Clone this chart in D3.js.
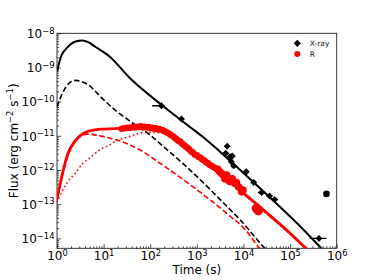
<!DOCTYPE html>
<html>
<head>
<meta charset="utf-8">
<script src="https://cdn.jsdelivr.net/npm/d3@7"></script>
<style>
  html, body { margin: 0; padding: 0; background: #fff; }
  svg { display: block; font-family: 'DejaVu Sans', sans-serif; }
  text { white-space: pre; }
</style>
</head>
<body>
<div id="chart"></div>
<script>
// X-ray observations: time (s), flux (erg cm^-2 s^-1)
const xrayT   = [174, 468, 4470, 4170, 5130, 5750, 5500, 6170, 11500, 16600, 24500, 36300, 46800, 417000];
const xrayF   = [7.6e-11, 3.1e-11, 5.0e-12, 3.1e-12, 2.45e-12, 2.57e-12, 1.74e-12, 1.32e-12, 8.9e-13, 4.3e-13, 2.2e-13, 1.74e-13, 1.38e-13, 1.0e-14];
const xrayTLo = [110, null, null, null, null, null, null, null, null, null, 20400, null, null, 263000];
const xrayTHi = [200, null, null, null, null, null, null, null, null, null, 28800, null, null, 603000];
const xrayFLo = [null, null, null, null, null, null, null, null, null, null, null, null, null, 8.3e-15];
const xrayFHi = [null, null, null, null, null, null, null, null, null, null, null, null, null, 1.2e-14];

// single late point drawn as a black dot
const lateT = [603000];
const lateF = [2.0e-13];

// R band observations
const rT = [24.5, 28.2, 31.6, 35.5, 39.8, 43.7, 47.9, 52.5, 57.5, 63.1, 69.2, 75.9, 83.2, 91.2, 100, 110, 120, 132, 145, 158,
            174, 191, 209, 229, 251, 275, 302, 331, 363, 398, 437, 479, 525, 575, 631, 692, 759, 832, 912, 1000,
            1096, 1202, 1318, 1445, 1585, 1738, 1905, 2089, 2291, 2512, 2818, 3090, 3388, 3715, 3981, 4365, 4786, 5129,
            5754, 6457, 7079, 7943, 9120, 9772, 19050, 20900];
const rF = [1.62e-11, 1.66e-11, 1.74e-11, 1.70e-11, 1.78e-11, 1.82e-11, 1.74e-11, 1.86e-11, 1.82e-11, 1.91e-11, 1.78e-11, 1.86e-11, 1.74e-11, 1.82e-11, 1.70e-11, 1.74e-11, 1.62e-11, 1.66e-11, 1.55e-11, 1.58e-11,
            1.48e-11, 1.45e-11, 1.35e-11, 1.26e-11, 1.17e-11, 1.07e-11, 1.0e-11, 8.9e-12, 8.1e-12, 7.2e-12, 6.8e-12, 6.0e-12, 5.4e-12, 4.9e-12, 4.4e-12, 4.0e-12, 3.5e-12, 3.2e-12, 2.8e-12, 2.7e-12,
            2.4e-12, 2.3e-12, 2.04e-12, 1.91e-12, 1.70e-12, 1.58e-12, 1.41e-12, 1.32e-12, 1.20e-12, 1.15e-12, 1.05e-12, 8.9e-13, 7.9e-13, 7.1e-13, 5.6e-13, 7.1e-13, 5.0e-13, 4.6e-13,
            5.5e-13, 4.1e-13, 4.3e-13, 3.2e-13, 2.3e-13, 2.6e-13, 7.6e-14, 6.5e-14];

// model curves [time, flux]
const xrayTotal = [[1, 7.9e-10], [1.26, 2.34e-9], [1.58, 3.55e-9], [1.9, 4.6e-9], [2.5, 5.75e-9], [3.5, 6.2e-9], [4.8, 5.4e-9],
                   [6.5, 4.1e-9], [13.8, 2.04e-9], [36, 5.0e-10], [174, 8.1e-11], [708, 1.82e-11], [1620, 7.6e-12],
                   [3090, 3.5e-12], [13800, 5.5e-13], [55000, 9.5e-14], [162000, 2.3e-14], [468000, 5.2e-15], [631000, 3.5e-15]];
const xrayComp  = [[1, 7.1e-11], [1.26, 1.58e-10], [1.74, 3.3e-10], [2.45, 4.2e-10], [4.7, 3.1e-10], [9.1, 1.29e-10],
                   [17.4, 5.75e-11], [36, 2.75e-11], [98, 1.07e-11], [204, 4.5e-12], [513, 1.51e-12], [1905, 2.75e-13],
                   [3090, 1.41e-13], [8300, 3.6e-14], [28800, 5.1e-15], [39800, 3.2e-15]];
const rTotal    = [[1, 1.41e-13], [1.26, 6.3e-13], [1.74, 3.2e-12], [2.45, 7.1e-12], [4.0, 1.26e-11], [7.8, 1.55e-11],
                   [24.5, 1.66e-11], [60, 1.74e-11], [126, 1.51e-11], [224, 1.17e-11], [708, 3.7e-12], [2630, 9.5e-13],
                   [8300, 2.6e-13], [31600, 5.6e-14], [100000, 1.41e-14], [219000, 5.1e-15], [316000, 3.3e-15]];
const rComp1    = [[1, 1.26e-13], [1.26, 5.6e-13], [1.74, 2.75e-12], [2.45, 6.6e-12], [3.1, 9.3e-12], [4.4, 1.12e-11],
                   [6.5, 1.07e-11], [10.7, 9.3e-12], [24.5, 6.8e-12], [60, 3.9e-12], [162, 1.58e-12], [832, 3.2e-13],
                   [4365, 5.4e-14], [10700, 1.86e-14], [22400, 5.1e-15], [31600, 3.2e-15]];
const rComp2    = [[1, 1.12e-13], [1.26, 2.24e-13], [1.62, 4.1e-13], [2.45, 7.9e-13], [3.6, 1.58e-12], [4.7, 2.1e-12],
                   [8.3, 3.9e-12], [12.6, 5.2e-12], [19, 7.1e-12], [34, 9.3e-12], [78, 1.26e-11], [158, 1.26e-11],
                   [316, 7.9e-12], [708, 3.4e-12], [2630, 8.9e-13], [8300, 2.45e-13], [31600, 5.2e-14],
                   [100000, 1.32e-14], [219000, 4.8e-15]];

// tick labels (powers of ten)
const xTickExp = [0, 1, 2, 3, 4, 5, 6];
const yTickExp = [-14, -13, -12, -11, -10, -9, -8];

const legendLabels = ['X-ray', 'R'];

// layout
const width = 374, height = 280;
const plotLeft = 57, plotRight = 336.7, plotTop = 33.3, plotBottom = 248.3;

const svg = d3.select('#chart').append('svg')
    .attr('width', width)
    .attr('height', height);

const x = d3.scaleLog().domain([1, 1e6]).range([plotLeft, plotRight]);
const y = d3.scaleLog().domain([Math.pow(10, -14.29), 1e-8]).range([plotBottom, plotTop]);

svg.append('defs').append('clipPath').attr('id', 'plot')
    .append('rect')
    .attr('x', plotLeft).attr('y', plotTop)
    .attr('width', plotRight - plotLeft).attr('height', plotBottom - plotTop);

// minor tick positions
const minorX = [];
xTickExp.slice(0, -1).forEach(e => d3.range(2, 10).forEach(m => minorX.push(m * Math.pow(10, e))));
const minorY = [];
d3.range(-15, -8).forEach(e => d3.range(2, 10).forEach(m => {
    const v = m * Math.pow(10, e);
    if (v >= y.domain()[0] && v <= 1e-8) minorY.push(v);
}));

// axes (ticks pointing inward)
const xAxisG = svg.append('g').attr('transform', `translate(0,${plotBottom})`);
xAxisG.append('g').call(d3.axisBottom(x).tickValues(minorX).tickSizeInner(-2).tickSizeOuter(0).tickFormat(''));
const xMajor = xAxisG.append('g')
    .call(d3.axisBottom(x).tickValues(xTickExp.map(e => Math.pow(10, e))).tickSizeInner(-4).tickSizeOuter(0));

const yAxisG = svg.append('g').attr('transform', `translate(${plotLeft},0)`);
yAxisG.append('g').call(d3.axisLeft(y).tickValues(minorY).tickSizeInner(-2).tickSizeOuter(0).tickFormat(''));
const yMajor = yAxisG.append('g')
    .call(d3.axisLeft(y).tickValues(yTickExp.map(e => Math.pow(10, e))).tickSizeInner(-4).tickSizeOuter(0));

svg.selectAll('.domain').remove();
svg.selectAll('.tick line').attr('stroke', '#222').attr('stroke-width', 0.8);

function powerLabel(sel, getExp) {
    sel.each(function(d) {
        const t = d3.select(this);
        const e = getExp(d);
        t.text('');
        t.append('tspan').text('10');
        t.append('tspan').attr('font-size', 8.4).attr('dy', -4.6)
            .text(e < 0 ? '\u2212' + Math.abs(e) : String(e));
    });
}

xMajor.selectAll('.tick text')
    .attr('y', 12.2).attr('dy', null)
    .attr('font-size', 12).attr('font-family', "'DejaVu Sans', sans-serif").attr('fill', '#000')
    .call(powerLabel, d => Math.round(Math.log10(d)));

yMajor.selectAll('.tick text')
    .attr('x', -2.5).attr('dy', '0.36em')
    .attr('font-size', 12).attr('font-family', "'DejaVu Sans', sans-serif").attr('fill', '#000')
    .call(powerLabel, d => Math.round(Math.log10(d)));

// frame
svg.append('rect')
    .attr('x', plotLeft).attr('y', plotTop)
    .attr('width', plotRight - plotLeft).attr('height', plotBottom - plotTop)
    .attr('fill', 'none').attr('stroke', '#222').attr('stroke-width', 0.9);

// model curves
const line = d3.line()
    .x(d => x(d[0]))
    .y(d => y(d[1]))
    .curve(d3.curveMonotoneX);

const curves = svg.append('g').attr('clip-path', 'url(#plot)').attr('fill', 'none');

curves.append('path').datum(xrayComp).attr('d', line)
    .attr('stroke', '#000').attr('stroke-width', 1.6).attr('stroke-dasharray', '5.5,2.6');
curves.append('path').datum(rComp1).attr('d', line)
    .attr('stroke', '#ff0000').attr('stroke-width', 1.6).attr('stroke-dasharray', '5.5,2.6');
curves.append('path').datum(rComp2).attr('d', line)
    .attr('stroke', '#ff0000').attr('stroke-width', 1.6).attr('stroke-dasharray', '1.6,2.6');
curves.append('path').datum(xrayTotal).attr('d', line)
    .attr('stroke', '#000').attr('stroke-width', 2);
curves.append('path').datum(rTotal).attr('d', line)
    .attr('stroke', '#ff0000').attr('stroke-width', 2.8);

// R band points
const pts = svg.append('g').attr('clip-path', 'url(#plot)');
pts.selectAll('circle.r')
    .data(rT.map((t, i) => ({ t, f: rF[i] })))
    .join('circle')
    .attr('class', 'r')
    .attr('cx', d => x(d.t))
    .attr('cy', d => y(d.f))
    .attr('r', d => d.t > 15000 ? 4.8 : (d.t > 2800 ? 3.8 : 3.2))
    .attr('fill', '#ff0000');

// X-ray points with error bars
const xray = xrayT.map((t, i) => ({ t, f: xrayF[i], tLo: xrayTLo[i], tHi: xrayTHi[i], fLo: xrayFLo[i], fHi: xrayFHi[i] }));
const bars = pts.append('g').attr('stroke', '#000').attr('stroke-width', 1.3);
bars.selectAll('line.xe')
    .data(xray.filter(d => d.tLo !== null))
    .join('line')
    .attr('class', 'xe')
    .attr('x1', d => x(d.tLo)).attr('x2', d => x(d.tHi))
    .attr('y1', d => y(d.f)).attr('y2', d => y(d.f));
bars.selectAll('line.ye')
    .data(xray.filter(d => d.fLo !== null))
    .join('line')
    .attr('class', 'ye')
    .attr('x1', d => x(d.t)).attr('x2', d => x(d.t))
    .attr('y1', d => y(d.fLo)).attr('y2', d => y(d.fHi));

const diamond = d3.symbol(d3.symbolSquare, 24);
pts.selectAll('path.xr')
    .data(xray)
    .join('path')
    .attr('class', 'xr')
    .attr('d', diamond)
    .attr('transform', d => `translate(${x(d.t)},${y(d.f)}) rotate(45)`)
    .attr('fill', '#000');

pts.selectAll('circle.late')
    .data(lateT.map((t, i) => ({ t, f: lateF[i] })))
    .join('circle')
    .attr('class', 'late')
    .attr('cx', d => x(d.t))
    .attr('cy', d => y(d.f))
    .attr('r', 3.3)
    .attr('fill', '#000');

// axis titles
svg.append('text')
    .attr('x', (plotLeft + plotRight) / 2).attr('y', 274)
    .attr('text-anchor', 'middle')
    .attr('font-size', 12)
    .text('Time (s)');

const yTitle = svg.append('text')
    .attr('transform', `translate(18,${(plotTop + plotBottom) / 2}) rotate(-90)`)
    .attr('text-anchor', 'middle')
    .attr('font-size', 12);
yTitle.append('tspan').text('Flux (erg cm');
yTitle.append('tspan').attr('font-size', 8.4).attr('dy', -4.6).text('\u22122');
yTitle.append('tspan').attr('dy', 4.6).text(' s');
yTitle.append('tspan').attr('font-size', 8.4).attr('dy', -4.6).text('\u22121');
yTitle.append('tspan').attr('dy', 4.6).text(')');

// legend
const legend = svg.append('g').attr('transform', 'translate(297.3,43.3)');
legend.append('path')
    .attr('d', d3.symbol(d3.symbolSquare, 26)())
    .attr('transform', 'rotate(45)')
    .attr('fill', '#000');
legend.append('circle')
    .attr('cx', 0).attr('cy', 10.7).attr('r', 3)
    .attr('fill', '#ff0000');
legend.selectAll('text')
    .data(legendLabels)
    .join('text')
    .attr('x', 12.5)
    .attr('y', (d, i) => i * 10.7 + 2.7)
    .attr('font-size', 7.5)
    .attr('fill', '#222')
    .text(d => d);
</script>
</body>
</html>
